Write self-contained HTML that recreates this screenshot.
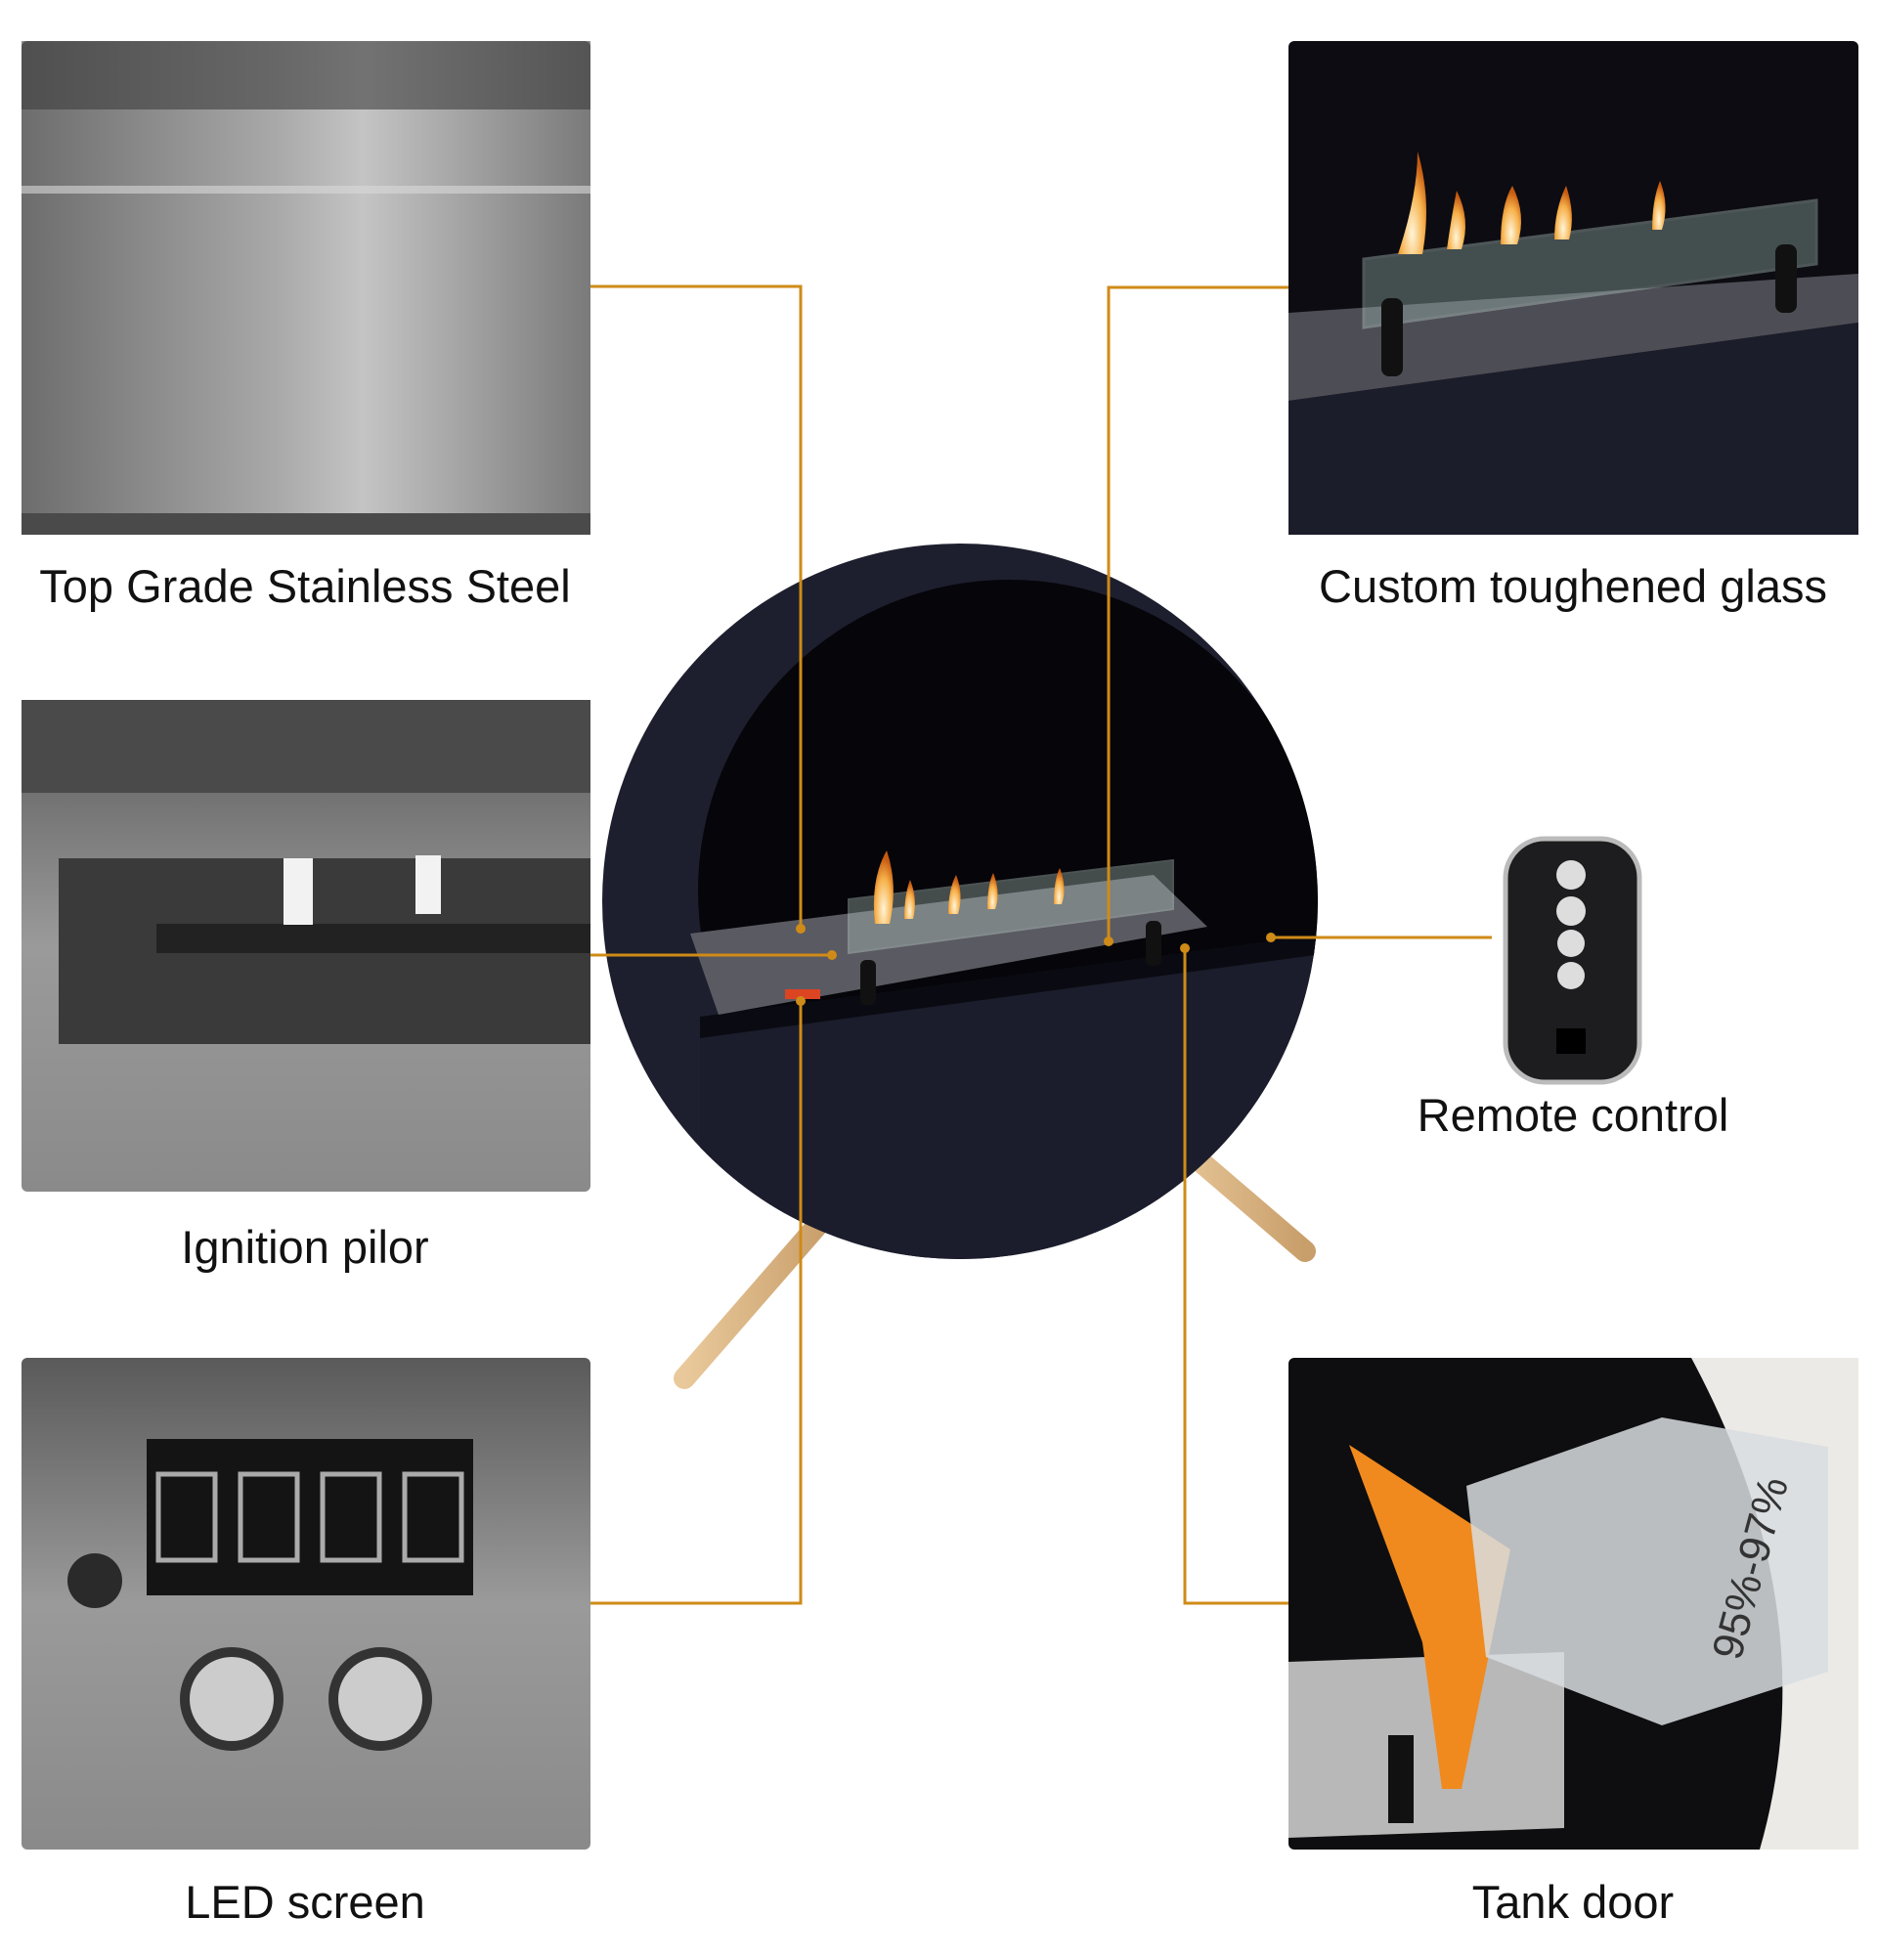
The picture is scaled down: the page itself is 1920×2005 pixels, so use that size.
<!DOCTYPE html>
<html><head><meta charset="utf-8"><style>
html,body{margin:0;padding:0;background:#fff;}
body{width:1920px;height:2005px;overflow:hidden;position:relative;font-family:"Liberation Sans","DejaVu Sans",sans-serif;}
.lbl{position:absolute;font-size:47px;color:#111;text-align:center;white-space:nowrap;transform:translateX(-50%);}
</style></head><body>
<svg width="1920" height="2005" viewBox="0 0 1920 2005" xmlns="http://www.w3.org/2000/svg" style="position:absolute;left:0;top:0">
<defs>
<linearGradient id="steel" x1="0" y1="0" x2="1" y2="0">
<stop offset="0" stop-color="#6d6d6d"/><stop offset="0.45" stop-color="#a9a9a9"/><stop offset="0.6" stop-color="#c4c4c4"/><stop offset="1" stop-color="#7a7a7a"/></linearGradient>
<linearGradient id="steel2" x1="0" y1="0" x2="0" y2="1">
<stop offset="0" stop-color="#5a5a5a"/><stop offset="0.5" stop-color="#9a9a9a"/><stop offset="1" stop-color="#8a8a8a"/></linearGradient>
<linearGradient id="leg" x1="0" y1="0" x2="1" y2="0"><stop offset="0" stop-color="#e9c99b"/><stop offset="1" stop-color="#c89e6a"/></linearGradient>
<radialGradient id="flame" cx="0.5" cy="0.8" r="0.7"><stop offset="0" stop-color="#fff5d8"/><stop offset="0.6" stop-color="#f6b04a"/><stop offset="1" stop-color="#c65a10"/></radialGradient>
<clipPath id="outer"><circle cx="982" cy="922" r="366"/></clipPath>
</defs>
<!-- top-left steel -->
<rect x="22" y="42" width="582" height="505" rx="6" fill="url(#steel)"/>
<rect x="22" y="42" width="582" height="70" fill="#3c3c3c" opacity="0.6"/>
<rect x="22" y="190" width="582" height="8" fill="#d8d8d8" opacity="0.6"/>
<rect x="22" y="525" width="582" height="22" fill="#4a4a4a"/>
<!-- mid-left pilot -->
<rect x="22" y="716" width="582" height="503" rx="6" fill="url(#steel2)"/>
<rect x="22" y="716" width="582" height="95" fill="#4a4a4a"/>
<rect x="60" y="878" width="544" height="190" fill="#3a3a3a"/>
<rect x="160" y="945" width="444" height="30" fill="#222"/>
<rect x="290" y="878" width="30" height="68" fill="#f2f2f2"/>
<rect x="425" y="875" width="26" height="60" fill="#f2f2f2"/>
<!-- LED -->
<rect x="22" y="1389" width="582" height="503" rx="6" fill="url(#steel2)"/>
<rect x="150" y="1472" width="334" height="160" fill="#141414"/>
<g fill="none" stroke="#aaa" stroke-width="5">
<rect x="162" y="1508" width="58" height="88"/><rect x="246" y="1508" width="58" height="88"/><rect x="330" y="1508" width="58" height="88"/><rect x="414" y="1508" width="58" height="88"/>
</g>
<circle cx="97" cy="1617" r="28" fill="#2a2a2a"/>
<circle cx="237" cy="1738" r="48" fill="#ccc" stroke="#333" stroke-width="10"/>
<circle cx="389" cy="1738" r="48" fill="#ccc" stroke="#333" stroke-width="10"/>
<!-- top-right glass -->
<rect x="1318" y="42" width="583" height="505" rx="6" fill="#0c0c12"/>
<polygon points="1318,320 1901,280 1901,330 1318,410" fill="#4d4d55"/>
<polygon points="1318,410 1901,330 1901,547 1318,547" fill="#1c1d2a"/>
<polygon points="1395,265 1858,205 1858,270 1395,335" fill="#a9c8c0" opacity="0.35" stroke="#c8e0d8" stroke-width="3"/>
<g fill="url(#flame)">
<path d="M1430,260 q20,-60 20,-105 q15,50 5,105z"/><path d="M1480,255 q5,-35 10,-60 q15,30 5,60z"/>
<path d="M1535,250 q0,-40 12,-60 q15,30 5,60z"/><path d="M1590,245 q0,-30 12,-55 q10,30 3,55z"/><path d="M1690,235 q0,-30 8,-50 q10,25 2,50z"/></g>
<rect x="1413" y="305" width="22" height="80" rx="8" fill="#111"/><rect x="1816" y="250" width="22" height="70" rx="8" fill="#111"/>
<!-- remote -->
<rect x="1540" y="858" width="137" height="249" rx="40" fill="#1d1d1f" stroke="#bbb" stroke-width="5"/>
<circle cx="1607" cy="895" r="15" fill="#ddd"/><circle cx="1607" cy="932" r="15" fill="#ddd"/><circle cx="1607" cy="965" r="14" fill="#ddd"/><circle cx="1607" cy="998" r="14" fill="#ddd"/>
<rect x="1592" y="1052" width="30" height="26" fill="#000"/>
<!-- tank door -->
<rect x="1318" y="1389" width="583" height="503" rx="6" fill="#0e0e10"/>
<path d="M1730,1389 L1901,1389 L1901,1892 L1800,1892 Q1870,1650 1730,1389z" fill="#eceae6"/>
<polygon points="1318,1700 1600,1690 1600,1870 1318,1880" fill="#b8b8b8"/>
<polygon points="1380,1478 1545,1585 1495,1830 1475,1830 1455,1680" fill="#f08a1e"/>
<path d="M1500,1520 l200,-70 l170,30 l0,230 l-170,55 l-180,-70z" fill="#d8dde0" opacity="0.85"/>
<text x="1780" y="1700" font-size="44" fill="#333" transform="rotate(-75 1780 1700)" font-family="Liberation Sans">95%-97%</text>
<rect x="1420" y="1775" width="26" height="90" fill="#111"/>
<!-- fireplace legs -->
<line x1="848" y1="1240" x2="700" y2="1410" stroke="url(#leg)" stroke-width="22" stroke-linecap="round"/>
<line x1="1195" y1="1160" x2="1335" y2="1280" stroke="url(#leg)" stroke-width="22" stroke-linecap="round"/>
<circle cx="982" cy="922" r="366" fill="#1d1f2e"/>
<g clip-path="url(#outer)">
<circle cx="1032" cy="911" r="318" fill="#05050a"/>
<polygon points="716,1040 1360,955 1360,1400 716,1400" fill="#1b1d2c"/>
<polygon points="716,1040 1360,955 1360,975 716,1062" fill="#0a0b12"/>
</g>
<polygon points="706,955 1180,895 1235,948 735,1038" fill="#5a5a62"/>
<polygon points="868,920 1200,880 1200,930 868,975" fill="#b9d0c8" opacity="0.35" stroke="#cfe3dc" stroke-width="2"/>
<g fill="url(#flame)">
<path d="M895,945 q-5,-45 12,-75 q12,35 3,75z"/><path d="M925,940 q0,-25 6,-40 q8,20 3,40z"/><path d="M970,935 q0,-25 8,-40 q8,20 2,40z"/>
<path d="M1010,930 q0,-25 6,-37 q8,20 2,37z"/><path d="M1078,925 q0,-25 6,-37 q8,20 2,37z"/></g>
<rect x="880" y="982" width="16" height="46" rx="6" fill="#111"/><rect x="1172" y="942" width="16" height="46" rx="6" fill="#111"/>
<rect x="803" y="1012" width="36" height="10" fill="#d42"/>
<!-- connectors -->
<g stroke="#cf8b17" stroke-width="3" fill="none">
<polyline points="604,293 819,293 819,950"/>
<polyline points="1318,294 1134,294 1134,963"/>
<polyline points="604,977 851,977"/>
<polyline points="604,1640 819,1640 819,1024"/>
<polyline points="1318,1640 1212,1640 1212,970"/>
<polyline points="1300,959 1526,959"/>
</g>
<g fill="#cf8b17"><circle cx="819" cy="950" r="5"/><circle cx="1134" cy="963" r="5"/><circle cx="851" cy="977" r="5"/><circle cx="819" cy="1024" r="5"/><circle cx="1212" cy="970" r="5"/><circle cx="1300" cy="959" r="5"/></g>
</svg>
<div class="lbl" style="left:312px;top:572px">Top Grade Stainless Steel</div>
<div class="lbl" style="left:1609px;top:572px">Custom toughened glass</div>
<div class="lbl" style="left:312px;top:1248px">Ignition pilor</div>
<div class="lbl" style="left:1609px;top:1113px">Remote control</div>
<div class="lbl" style="left:312px;top:1918px">LED screen</div>
<div class="lbl" style="left:1609px;top:1918px">Tank door</div>
</body></html>
